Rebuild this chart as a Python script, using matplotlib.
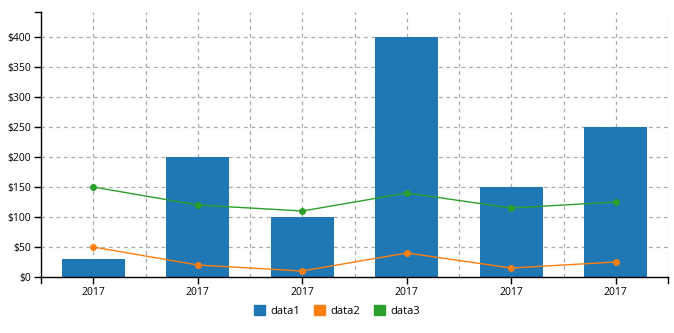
import numpy as np
import matplotlib.pyplot as plt
from matplotlib.ticker import FuncFormatter, FixedLocator

plt.rcParams['font.family'] = ['Open Sans', 'DejaVu Sans']

# datos de la gráfica
categorias = ['2017', '2017', '2017', '2017', '2017', '2017']
data1 = [30, 200, 100, 400, 150, 250]
data2 = [50, 20, 10, 40, 15, 25]
data3 = [150, 120, 110, 140, 115, 125]

azul, naranja, verde = '#1f77b4', '#ff7f0e', '#2ca02c'

fig = plt.figure(figsize=(6.74, 3.33), dpi=100)
W, H = 674, 333
x0, x1, y0, y1 = 41, 668, 277, 12
ax = fig.add_axes([x0 / W, 1 - y0 / H, (x1 - x0) / W, (y0 - y1) / H])

x = np.arange(len(categorias))
ax.bar(x, data1, width=0.6, color=azul, zorder=2)
ax.plot(x, data2, color=naranja, lw=1, marker='o', ms=4, zorder=3)
ax.plot(x, data3, color=verde, lw=1, marker='o', ms=4, zorder=3)

ax.set_xlim(-0.5, len(categorias) - 0.5)
ax.set_ylim(0, 441.7)

# rejilla punteada en centros y límites de cada categoría
for xv in np.arange(-0.5, len(categorias), 0.5):
    if xv > -0.5:
        ax.axvline(xv, color='#aaaaaa', lw=0.9, ls=(0, (3, 3)), zorder=1)
for yv in range(50, 401, 50):
    ax.axhline(yv, color='#aaaaaa', lw=0.9, ls=(0, (3, 3)), zorder=1)

ax.set_xticks(x)
ax.set_xticklabels(categorias)
ax.set_yticks(range(0, 401, 50))
ax.yaxis.set_major_formatter(FuncFormatter(lambda v, p: f'${v:.0f}'))
ax.tick_params(labelsize=7.5, length=5, width=1, colors='black', pad=2)

for lado in ['top', 'right']:
    ax.spines[lado].set_visible(False)
for lado in ['left', 'bottom']:
    ax.spines[lado].set_linewidth(1)

# marcas exteriores en los extremos de los ejes
ax.plot([-0.5, -0.5], [0, -441.7 * 6 / 265], color='black', lw=1, clip_on=False)
ax.plot([5.5, 5.5], [0, -441.7 * 6 / 265], color='black', lw=1, clip_on=False)
ax.plot([-0.5 - 6 * 6 / 627, -0.5], [441.7, 441.7], color='black', lw=1, clip_on=False)

# leyenda
handles = [plt.Rectangle((0, 0), 1, 1, color=c) for c in (azul, naranja, verde)]
fig.legend(handles, ['data1', 'data2', 'data3'], loc='center', bbox_to_anchor=(0.5, 1 - 311 / H),
           ncol=3, frameon=False, fontsize=8, handlelength=1.0, handleheight=1.0,
           handletextpad=0.5, columnspacing=1.2)

fig.savefig('out.png', dpi=100)
